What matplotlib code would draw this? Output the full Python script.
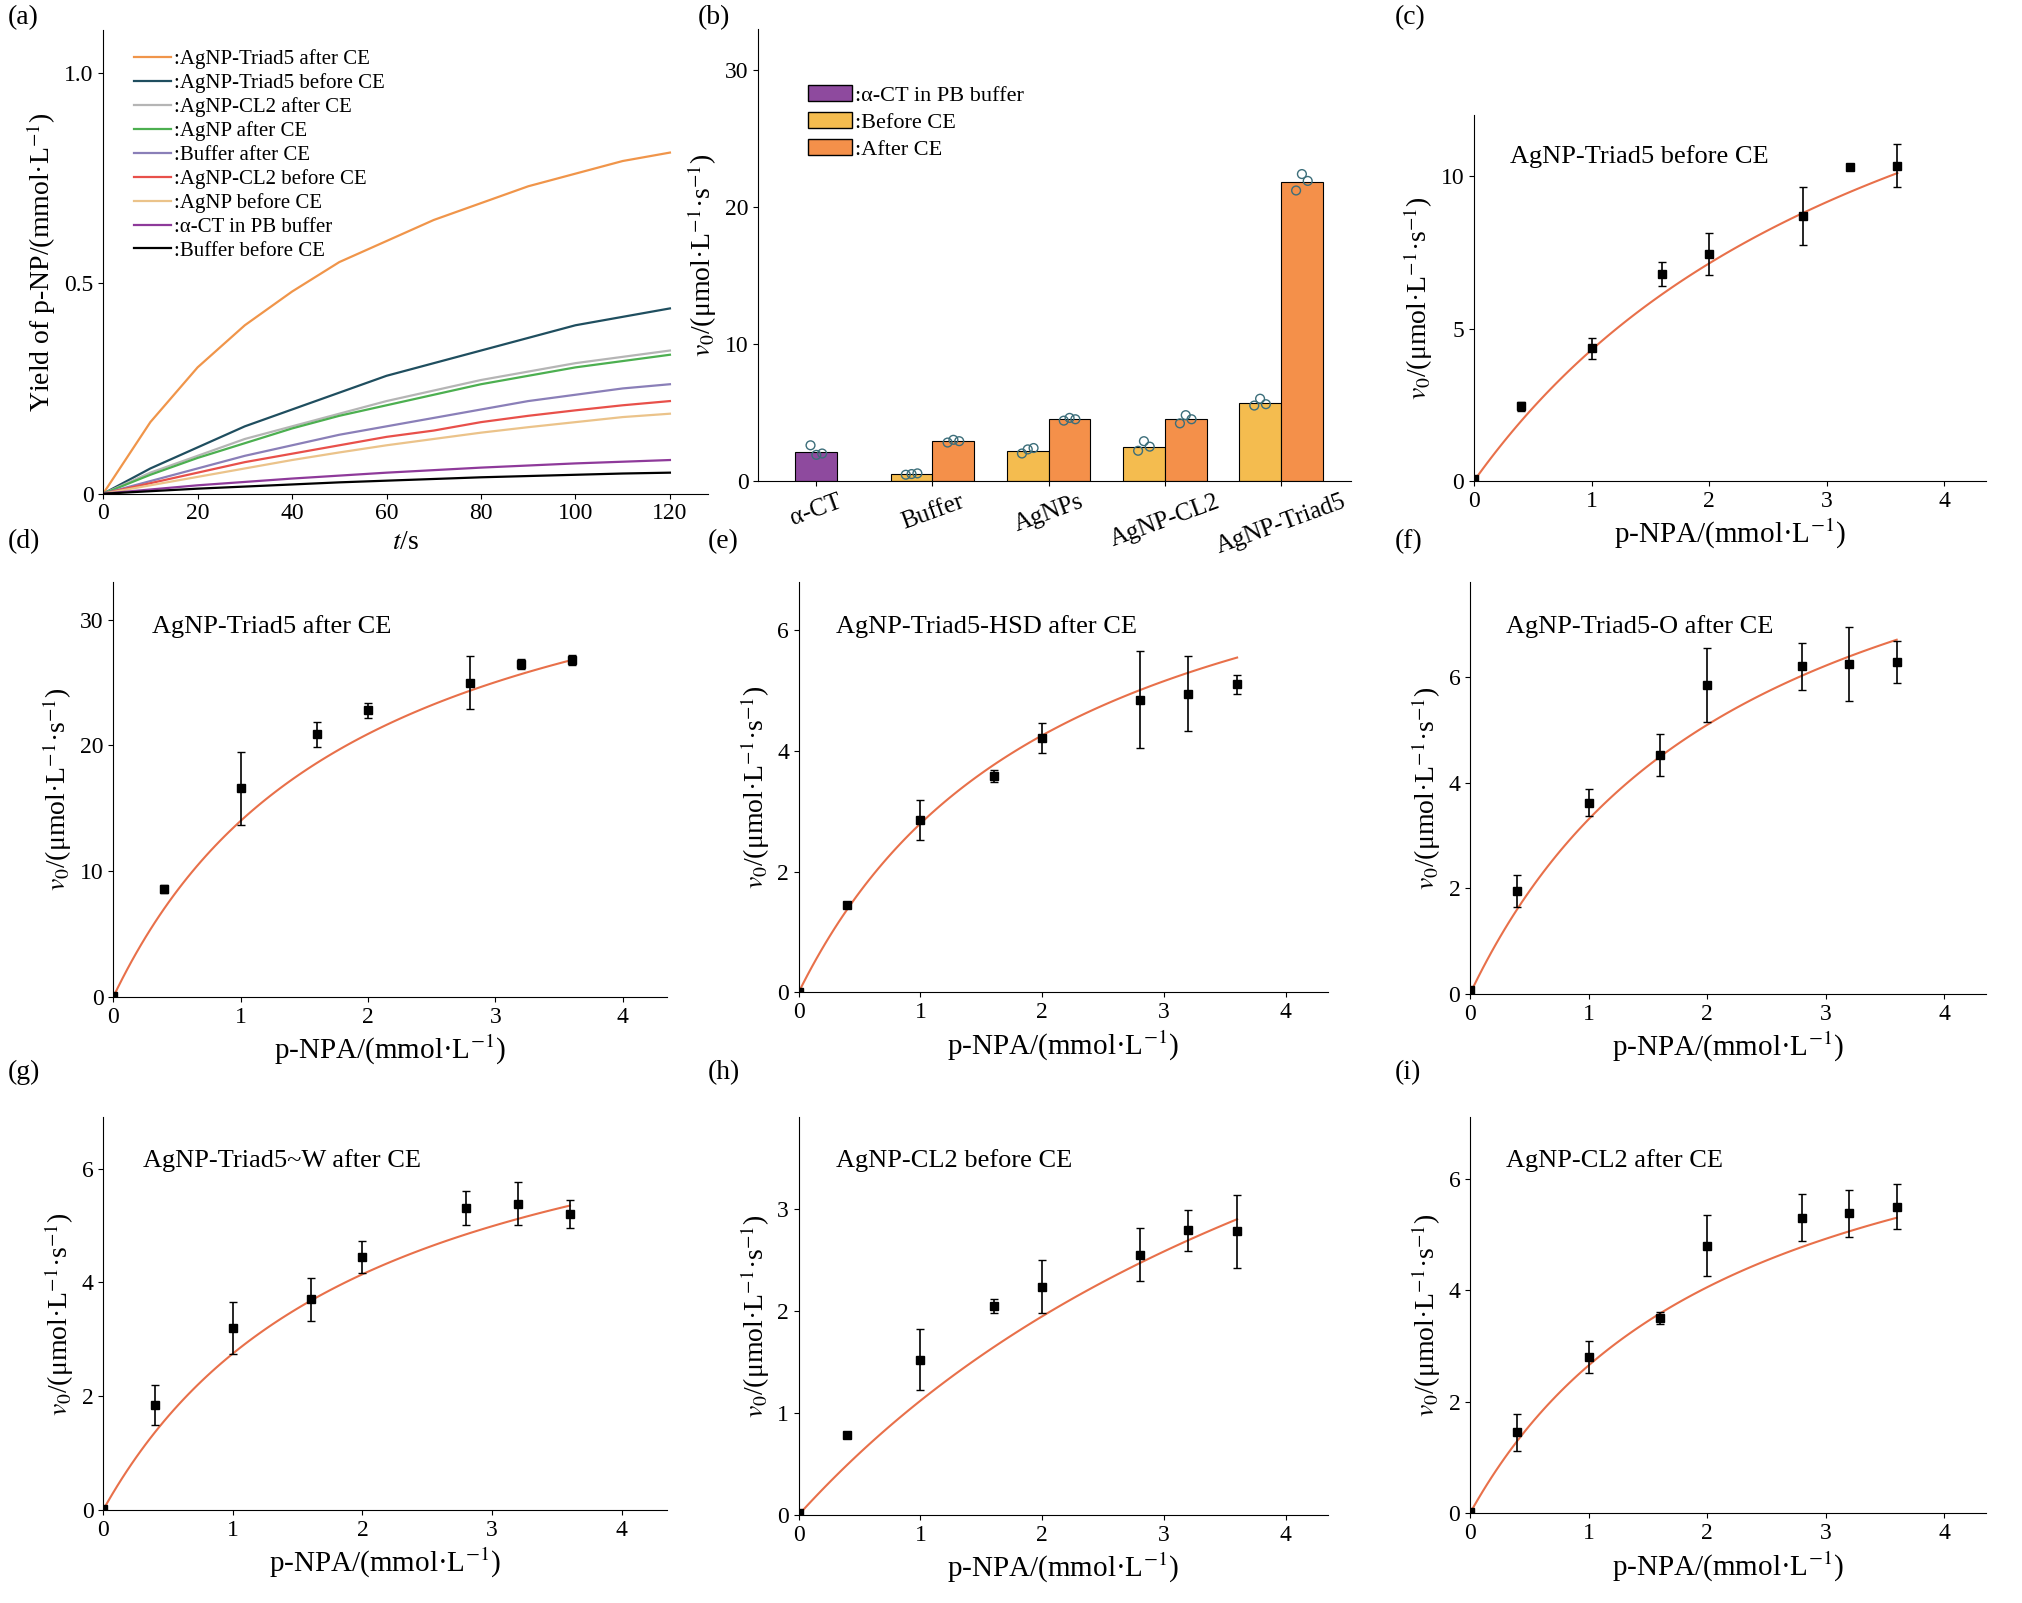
# 酶动力学 作图

import numpy as np
import matplotlib.pyplot as plt
import matplotlib.patches as mpatches

plt.rcParams['font.family'] = ['Liberation Serif', 'DejaVu Serif']
plt.rcParams['mathtext.fontset'] = 'stix'
plt.rcParams['font.size'] = 17

# (a) 产物随时间的曲线，每 10 s 读一个点
t = [0, 10, 20, 30, 40, 50, 60, 70, 80, 90, 100, 110, 120]
curves = [
    (':AgNP-Triad5 after CE', '#F0954A', [0, 0.17, 0.30, 0.40, 0.48, 0.55, 0.60, 0.65, 0.69, 0.73, 0.76, 0.79, 0.81]),
    (':AgNP-Triad5 before CE', '#1F4E5F', [0, 0.06, 0.11, 0.16, 0.20, 0.24, 0.28, 0.31, 0.34, 0.37, 0.40, 0.42, 0.44]),
    (':AgNP-CL2 after CE', '#B5B5B5', [0, 0.05, 0.09, 0.13, 0.16, 0.19, 0.22, 0.245, 0.27, 0.29, 0.31, 0.325, 0.34]),
    (':AgNP after CE', '#4CAF50', [0, 0.045, 0.085, 0.12, 0.155, 0.185, 0.21, 0.235, 0.26, 0.28, 0.30, 0.315, 0.33]),
    (':Buffer after CE', '#8A7FB8', [0, 0.03, 0.06, 0.09, 0.115, 0.14, 0.16, 0.18, 0.20, 0.22, 0.235, 0.25, 0.26]),
    (':AgNP-CL2 before CE', '#E8504A', [0, 0.025, 0.05, 0.075, 0.095, 0.115, 0.135, 0.15, 0.17, 0.185, 0.198, 0.21, 0.22]),
    (':AgNP before CE', '#EBC38A', [0, 0.02, 0.04, 0.06, 0.08, 0.098, 0.115, 0.13, 0.145, 0.158, 0.17, 0.182, 0.19]),
    (':α-CT in PB buffer', '#8E3A9A', [0, 0.01, 0.02, 0.028, 0.036, 0.043, 0.05, 0.056, 0.062, 0.067, 0.072, 0.076, 0.08]),
    (':Buffer before CE', 'black', [0, 0.006, 0.012, 0.017, 0.022, 0.027, 0.031, 0.035, 0.039, 0.042, 0.045, 0.048, 0.05]),
]

fig = plt.figure(figsize=(20.22, 16.03), dpi=100)


def clean(ax):
    ax.spines['top'].set_visible(False)
    ax.spines['right'].set_visible(False)


ax = plt.axes([0.051, 0.692, 0.299, 0.289])
for name, c, y in curves:
    plt.plot(t, y, color=c, lw=1.6, label=name)
plt.xlim(0, 128)
plt.ylim(0, 1.1)
plt.xticks([0, 20, 40, 60, 80, 100, 120])
plt.yticks([0, 0.5, 1.0], ['0', '0.5', '1.0'])
plt.xlabel('$t$/s', fontsize=20)
plt.ylabel('Yield of p-NP/(mmol·L$^{-1}$)', fontsize=20)
plt.legend(loc='upper left', bbox_to_anchor=(0.02, 1.0), frameon=False, fontsize=15,
           handlelength=1.8, handletextpad=0.1, labelspacing=0.2)
clean(ax)
fig.text(0.004, 0.985, '(a)', fontsize=20)

# (b) 初速度柱状图
groups = ['α-CT', 'Buffer', 'AgNPs', 'AgNP-CL2', 'AgNP-Triad5']
before = [2.1, 0.5, 2.2, 2.5, 5.7]
after = [None, 2.9, 4.5, 4.5, 21.8]
before_pts = [[2.6, 1.9, 2.0], [0.45, 0.5, 0.55], [2.0, 2.3, 2.4], [2.2, 2.9, 2.5], [5.5, 6.0, 5.6]]
after_pts = [None, [2.8, 3.0, 2.9], [4.4, 4.6, 4.5], [4.2, 4.8, 4.5], [21.2, 22.4, 21.9]]
ax = plt.axes([0.375, 0.700, 0.293, 0.282])
w = 0.36
for i in range(len(groups)):
    if i == 0:
        plt.bar(i, before[i], w, color='#8E4A9E', edgecolor='black', lw=0.8)
        plt.scatter([i - 0.05, i, i + 0.05], before_pts[i], s=40, facecolor='none', edgecolor='#3C6E7A', zorder=3)
        continue
    plt.bar(i - w / 2, before[i], w, color='#F4BC4F', edgecolor='black', lw=0.8)
    plt.bar(i + w / 2, after[i], w, color='#F4904A', edgecolor='black', lw=0.8)
    plt.scatter([i - w / 2 - 0.05, i - w / 2, i - w / 2 + 0.05], before_pts[i], s=40, facecolor='none', edgecolor='#3C6E7A', zorder=3)
    plt.scatter([i + w / 2 - 0.05, i + w / 2, i + w / 2 + 0.05], after_pts[i], s=40, facecolor='none', edgecolor='#3C6E7A', zorder=3)
h = [mpatches.Patch(facecolor=c, edgecolor='black') for c in ['#8E4A9E', '#F4BC4F', '#F4904A']]
l = [':α-CT in PB buffer', ':Before CE', ':After CE']
plt.legend(h, l, loc='upper left', bbox_to_anchor=(0.05, 0.92), frameon=False, fontsize=16,
           handlelength=2.0, handletextpad=0.1, labelspacing=0.3)
plt.xticks(range(len(groups)), groups, rotation=20, fontsize=18)
plt.xlim(-0.5, 4.6)
plt.ylim(0, 33)
plt.yticks([0, 10, 20, 30])
plt.ylabel('$v_0$/(μmol·L$^{-1}$·s$^{-1}$)', fontsize=20)
clean(ax)
fig.text(0.345, 0.985, '(b)', fontsize=20)

# (c)-(i) 米氏方程拟合
x = [0, 0.4, 1, 1.6, 2, 2.8, 3.2, 3.6]
panels = [
    ('(c)', 'AgNP-Triad5 before CE', [0.05, 2.45, 4.35, 6.8, 7.45, 8.7, 10.3, 10.35],
     [0, 0.15, 0.35, 0.4, 0.7, 0.95, 0, 0.7], 21.0, 3.88, 12, [0, 5, 10]),
    ('(d)', 'AgNP-Triad5 after CE', [0.1, 8.6, 16.6, 20.9, 22.8, 25, 26.5, 26.8],
     [0, 0.3, 2.9, 1.0, 0.6, 2.1, 0.4, 0.4], 41.3, 1.95, 33, [0, 10, 20, 30]),
    ('(e)', 'AgNP-Triad5-HSD after CE', [0, 1.45, 2.85, 3.58, 4.22, 4.85, 4.95, 5.1],
     [0, 0.05, 0.33, 0.1, 0.25, 0.8, 0.62, 0.15], 8.92, 2.19, 6.8, [0, 2, 4, 6]),
    ('(f)', 'AgNP-Triad5-O after CE', [0.08, 1.95, 3.62, 4.52, 5.85, 6.2, 6.25, 6.28],
     [0, 0.3, 0.25, 0.4, 0.7, 0.45, 0.7, 0.4], 11.1, 2.36, 7.8, [0, 2, 4, 6]),
    ('(g)', 'AgNP-Triad5~W after CE', [0.02, 1.85, 3.2, 3.7, 4.45, 5.3, 5.38, 5.2],
     [0, 0.35, 0.45, 0.38, 0.28, 0.3, 0.38, 0.25], 8.41, 2.06, 6.9, [0, 2, 4, 6]),
    ('(h)', 'AgNP-CL2 before CE', [0.02, 0.78, 1.52, 2.05, 2.24, 2.55, 2.79, 2.78],
     [0, 0.03, 0.3, 0.07, 0.26, 0.26, 0.2, 0.36], 7.46, 5.66, 3.9, [0, 1, 2, 3]),
    ('(i)', 'AgNP-CL2 after CE', [0.02, 1.45, 2.8, 3.5, 4.8, 5.3, 5.38, 5.5],
     [0, 0.33, 0.28, 0.1, 0.55, 0.42, 0.42, 0.4], 8.61, 2.25, 7.1, [0, 2, 4, 6]),
]
boxes = [
    [0.729, 0.700, 0.253, 0.228],
    [0.056, 0.378, 0.274, 0.259],
    [0.395, 0.381, 0.262, 0.256],
    [0.727, 0.380, 0.255, 0.257],
    [0.051, 0.058, 0.279, 0.245],
    [0.395, 0.055, 0.262, 0.248],
    [0.727, 0.056, 0.255, 0.247],
]
label_pos = [(0.690, 0.985), (0.004, 0.658), (0.350, 0.658), (0.690, 0.658),
             (0.004, 0.327), (0.350, 0.327), (0.690, 0.327)]

for k, (tag, title, y, err, vmax, km, ytop, yt) in enumerate(panels):
    ax = plt.axes(boxes[k])
    xf = np.linspace(0, 3.6, 100)
    plt.plot(xf, vmax * xf / (km + xf), color='#E8704A', lw=1.5)
    plt.errorbar(x, y, yerr=err, fmt='s', color='black', ms=6, capsize=3, elinewidth=1.2)
    plt.xlim(0, 4.35)
    plt.ylim(0, ytop)
    plt.xticks([0, 1, 2, 3, 4])
    plt.yticks(yt)
    plt.xlabel('p-NPA/(mmol·L$^{-1}$)', fontsize=21)
    plt.ylabel('$v_0$/(μmol·L$^{-1}$·s$^{-1}$)', fontsize=20)
    plt.text(0.07, 0.92, title, transform=ax.transAxes, fontsize=19, va='top')
    clean(ax)
    fig.text(label_pos[k][0], label_pos[k][1], tag, fontsize=20)

plt.savefig('out.png', dpi=100)
